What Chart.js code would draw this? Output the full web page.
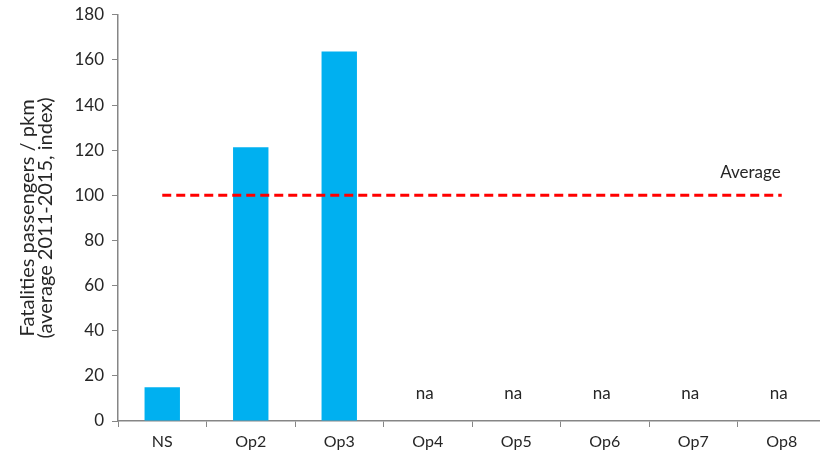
<!DOCTYPE html>
<html lang="en">
<head>
<meta charset="UTF-8">
<title>Fatalities passengers / pkm</title>
<style>
  body {
    margin: 0;
    background: #fff;
    overflow: hidden;
  }
  .wrap {
    position: relative;
    width: 830px;
    height: 458px;
  }
</style>
<script src="https://cdn.jsdelivr.net/npm/chart.js"></script>
</head>
<body>
<div class="wrap"><canvas id="chart"></canvas></div>
<script>
// data
var categories = ['NS', 'Op2', 'Op3', 'Op4', 'Op5', 'Op6', 'Op7', 'Op8'];
var fatalityIndex = [15, 121.3, 163.7, null, null, null, null, null];
var averageLine = [100, 100, 100, 100, 100, 100, 100, 100];
var yMin = 0, yMax = 180, yStep = 20;
var yTitle = ['Fatalities passengers / pkm', '(average 2011-2015, index)'];
var missingText = 'na';
var averageText = 'Average';

var FONT = 'Lato, "Open Sans", sans-serif';
var TEXT = '#262626';
var AXIS = '#868686';

// writes "na" for missing bars and the "Average" tag over the dashed line
var labelsPlugin = {
  id: 'labels',
  afterDatasetsDraw: function(chart) {
    var ctx = chart.ctx;
    var x = chart.scales.x, y = chart.scales.y;
    ctx.save();
    ctx.font = '17px ' + FONT;
    ctx.fillStyle = TEXT;
    ctx.textAlign = 'center';
    ctx.textBaseline = 'middle';
    fatalityIndex.forEach(function(v, i) {
      if (v === null) {
        ctx.fillText(missingText, x.getPixelForValue(i) - 3, y.getPixelForValue(0) - 27);
      }
    });
    var last = averageLine.length - 1;
    ctx.textAlign = 'right';
    ctx.fillText(averageText, x.getPixelForValue(last) - 1, y.getPixelForValue(averageLine[last]) - 23);
    ctx.restore();
  }
};

new Chart(document.getElementById('chart'), {
  data: {
    labels: categories,
    datasets: [{
      type: 'line',
      data: averageLine,
      borderColor: '#ff0000',
      borderWidth: 3,
      borderDash: [9, 5],
      pointRadius: 0,
      fill: false,
      order: 0
    }, {
      type: 'bar',
      data: fatalityIndex,
      backgroundColor: '#00b0f0',
      barPercentage: 0.4,
      categoryPercentage: 1,
      order: 1
    }]
  },
  options: {
    responsive: true,
    maintainAspectRatio: false,
    animation: false,
    layout: { padding: { top: 14, right: 4, bottom: 0, left: 0 } },
    plugins: {
      legend: { display: false },
      tooltip: { enabled: false }
    },
    scales: {
      x: {
        grid: { drawOnChartArea: false, tickLength: 6, color: AXIS, offset: true },
        border: { color: AXIS, width: 1.5 },
        ticks: { color: TEXT, font: { family: FONT, size: 16 }, padding: 5 },
        afterFit: function(s) { s.height = 37; }
      },
      y: {
        min: yMin,
        max: yMax,
        grid: { drawOnChartArea: false, tickLength: 6, color: AXIS },
        border: { color: AXIS, width: 1.5 },
        ticks: { stepSize: yStep, color: TEXT, font: { family: FONT, size: 17, lineHeight: 0.8 }, padding: 8 },
        title: {
          display: true,
          text: yTitle,
          color: TEXT,
          font: { family: FONT, size: 20, lineHeight: 0.87 },
          padding: { top: 19, bottom: 0 }
        },
        afterFit: function(s) { s.width = 118; }
      }
    }
  },
  plugins: [labelsPlugin]
});
</script>
</body>
</html>
